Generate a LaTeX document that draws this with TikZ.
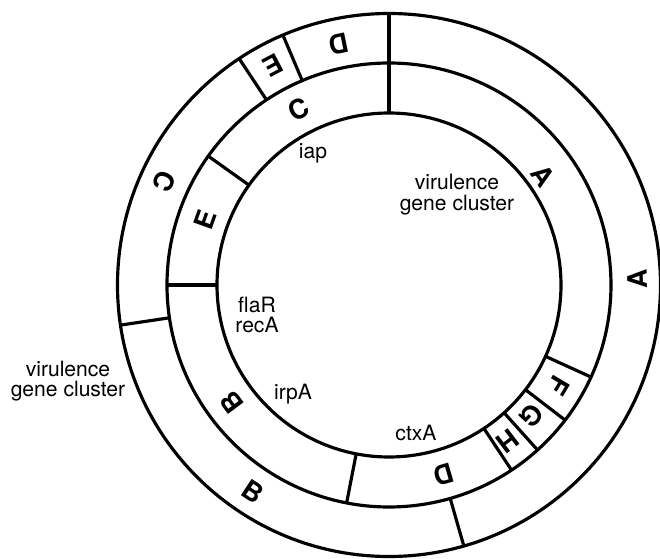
\documentclass[tikz,border=0pt]{standalone}
\usepackage{fontspec}
\setmainfont{TeX Gyre Heros}

\begin{document}
\begin{tikzpicture}[x=0.03cm, y=0.03cm,
      ring/.style={line width=2.7pt},
      divider/.style={line width=2.7pt},
      seg/.style={font=\fontsize{23}{23}\selectfont\bfseries, inner sep=0pt},
      gene/.style={font=\fontsize{18}{17.5}\selectfont, align=center,
                   inner sep=0pt},
    ]
    \useasboundingbox (-389,-274) rectangle (271,285);

    % Rings
    \foreach \r in {172, 222, 271.5}
      \draw[ring] (0,0) circle (\r);

    % Outer ring boundaries
    \draw[divider] (90:172) -- (90:271.5);
    \foreach \a in {113, 123.5, 188.5, 286}
      \draw[divider] (\a:222) -- (\a:271.5);
    % Inner ring boundaries
    \foreach \a in {144.5, 180, 259, 303.5, 312, 322.5, 335.5}
      \draw[divider] (\a:172) -- (\a:222);

    % Outer ring segments, read from the centre
    \foreach \a/\r/\seg in {101.7/246/D, 117.9/248/E, 155.3/247/C,
                            236.6/247/B, 1.4/249/A}
      \node[seg, rotate=\a+90] (out\seg) at (\a:\r) {\seg};
    % Inner ring segments, read from outside
    \foreach \a/\r/\seg in {117.2/197/C, 160.5/195/E, 216.7/196/B,
                            286.2/197/D, 307.3/196/H, 317.4/194/G,
                            329.3/198/F, 35.5/189/A}
      \node[seg, rotate=\a-90] (in\seg) at (\a:\r) {\seg};

    % Genes
    \node[gene] (vgcR) at (68, 90.5) {virulence\\gene cluster};
    \node[gene] (vgcL) at (-321, -96) {virulence\\gene cluster};
    \node[gene] (iap) at (-76, 132) {iap};
    \node[gene] (flar) at (-132, -30) {flaR\\recA};
    \node[gene] (irpa) at (-96, -109) {irpA};
    \node[gene] (ctxa) at (27, -148) {ctxA};
  \end{tikzpicture}
\end{document}
